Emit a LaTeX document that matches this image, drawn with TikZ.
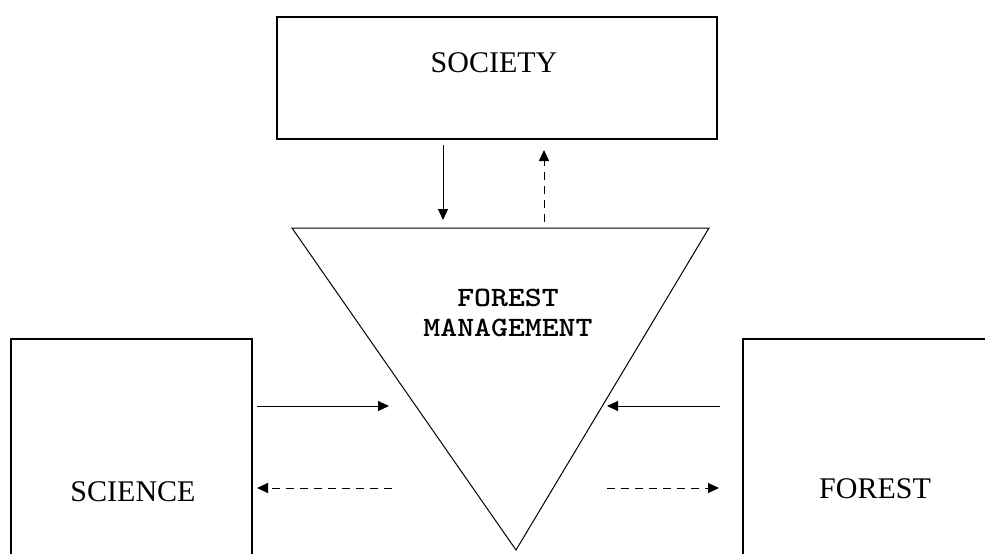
\documentclass[tikz,border=0pt]{standalone}
\usepackage{fontspec}
\setmainfont{Liberation Serif}
\usetikzlibrary{arrows.meta}
\begin{document}
\begin{tikzpicture}[x=1pt,y=-1pt,
  box/.style={draw,line width=1.6pt,inner sep=0pt},
  lbl/.style={font=\fontsize{30}{30}\selectfont,inner sep=0pt},
  mlbl/.style={font=\ttfamily\bfseries\fontsize{28}{30}\selectfont,inner sep=0pt},
  arr/.style={line width=1pt,-{Triangle[length=11pt,width=10pt]}},
  darr/.style={arr,dash pattern=on 8pt off 6pt}]
\useasboundingbox (0,0) rectangle (985,554);
\clip (0,0) rectangle (985,554);
% boxes
\node[box,minimum width=440pt,minimum height=122pt] (soc) at (497,78) {};
\node[lbl] (soctxt) at (494,63) {SOCIETY};
\node[box,minimum width=241pt,minimum height=300pt] (sci) at (131.5,489) {};
\node[lbl] (scitxt) at (133,492) {SCIENCE};
\node[box,minimum width=357pt,minimum height=300pt] (for) at (921.5,489) {};
\node[lbl] (fortxt) at (875,489) {FOREST};
% triangle
\coordinate (tl) at (292,228);
\coordinate (tr) at (709,228);
\coordinate (tb) at (516,550);
\draw[line width=1pt,line join=miter] (tl) -- (tr) -- (tb) -- cycle;
\node[mlbl] (fm) at (508,315) {\scalebox{1.15}[1]{\begin{tabular}{@{}c@{}}FOREST\\MANAGEMENT\end{tabular}}};
% connector ends
\coordinate (a1s) at (443,145); \coordinate (a1e) at (443,220);
\coordinate (a2s) at (544,222); \coordinate (a2e) at (544,150);
\coordinate (b1s) at (257,406); \coordinate (b1e) at (389,406);
\coordinate (b2s) at (392,488); \coordinate (b2e) at (257,488);
\coordinate (c1s) at (720,406); \coordinate (c1e) at (607,406);
\coordinate (c2s) at (607,488); \coordinate (c2e) at (719,488);
\draw[arr] (a1s) -- (a1e);
\draw[darr] (a2s) -- (a2e);
\draw[arr] (b1s) -- (b1e);
\draw[darr] (b2s) -- (b2e);
\draw[arr] (c1s) -- (c1e);
\draw[darr] (c2s) -- (c2e);
\end{tikzpicture}
\end{document}
